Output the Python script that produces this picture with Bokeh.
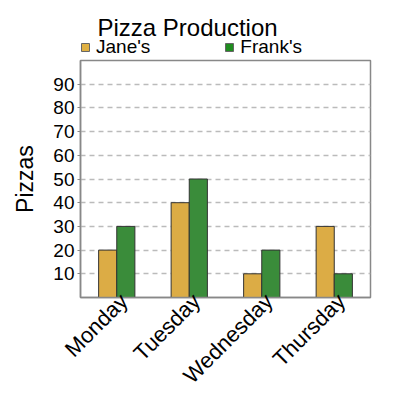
from math import pi

from bokeh.plotting import figure
from bokeh.layouts import column
from bokeh.models import Range1d, FixedTicker, Legend, LegendItem, Label
from bokeh.transform import dodge
from bokeh.embed import file_html
from bokeh.resources import INLINE

# data
days = ['Monday', 'Tuesday', 'Wednesday', 'Thursday']
janes = [20, 40, 10, 30]
franks = [30, 50, 20, 10]
y_ticks = [10, 20, 30, 40, 50, 60, 70, 80, 90]
series_names = ["Jane's", "Frank's"]

FONT = "Liberation Sans"
JANE_COLOR = "#dcac45"
FRANK_COLOR = "#3a8c3a"
LEFT, RIGHT = 80, 30        # frame borders shared by both figures
LABEL_SHIFT = 0.1           # tick labels sit a little right of the bar pair

# header: title + legend, above the plot frame
head = figure(width=400, height=58, x_range=Range1d(LEFT, 400 - RIGHT),
              y_range=Range1d(0, 58), output_backend="svg", toolbar_location=None,
              x_axis_location=None, y_axis_location=None, title_location=None,
              min_border_left=LEFT, min_border_right=RIGHT,
              min_border_top=0, min_border_bottom=0, outline_line_color=None)
head.grid.visible = False
head.add_layout(Label(x=97, y=31, text="Pizza Production", text_font=FONT,
                      text_font_size="24px", text_color="black",
                      text_baseline="alphabetic"))
g1 = head.vbar(x=[LEFT], top=[0], width=0, fill_color="#dfb042", line_color="#666666")
g2 = head.vbar(x=[LEFT], top=[0], width=0, fill_color="#1f8c1f", line_color="#666666")
legend = Legend(items=[LegendItem(label=series_names[0], renderers=[g1]),
                       LegendItem(label=series_names[1], renderers=[g2])],
                orientation="horizontal", location=(0, 0),
                label_text_font=FONT, label_text_font_size="19px",
                label_text_color="black",
                glyph_width=10, glyph_height=10, label_height=19,
                spacing=74, padding=0, margin=0, label_standoff=6,
                border_line_color=None, background_fill_alpha=0)
head.add_layout(legend)

# main chart
pos = list(range(1, len(days) + 1))
p = figure(width=400, height=342,
           x_range=Range1d(0.5 - LABEL_SHIFT, len(days) + 0.5 - LABEL_SHIFT),
           y_range=Range1d(0, 100),
           output_backend="svg", toolbar_location=None,
           min_border_left=LEFT, min_border_right=RIGHT,
           min_border_top=2, min_border_bottom=101)

src = dict(pos=pos, janes=janes, franks=franks)
p.vbar(x=dodge('pos', -0.125 - LABEL_SHIFT), top='janes', width=0.25,
       source=src, fill_color=JANE_COLOR, line_color="#333333", line_width=1)
p.vbar(x=dodge('pos', 0.125 - LABEL_SHIFT), top='franks', width=0.25,
       source=src, fill_color=FRANK_COLOR, line_color="#333333", line_width=1)

p.yaxis.ticker = FixedTicker(ticks=y_ticks)
p.yaxis.axis_label = "Pizzas"
p.yaxis.axis_label_text_font = FONT
p.yaxis.axis_label_text_font_size = "23px"
p.yaxis.axis_label_text_font_style = "normal"
p.yaxis.axis_label_text_color = "black"
p.yaxis.axis_label_standoff = 12
p.yaxis.major_label_text_font = FONT
p.yaxis.major_label_text_font_size = "19px"
p.yaxis.major_label_text_color = "black"
p.yaxis.major_label_standoff = 3
p.yaxis.minor_tick_line_color = None
p.yaxis.major_tick_in = 0
p.yaxis.major_tick_out = 3
p.yaxis.major_tick_line_color = "#888888"

p.xaxis.ticker = FixedTicker(ticks=pos)
p.xaxis.major_label_overrides = {x: d for x, d in zip(pos, days)}
p.xaxis.major_label_orientation = pi / 4
p.xaxis.major_label_text_font = FONT
p.xaxis.major_label_text_font_size = "22px"
p.xaxis.major_label_text_color = "black"
p.xaxis.major_label_standoff = 0
p.xaxis.major_tick_in = 0
p.xaxis.major_tick_out = 0
p.xaxis.minor_tick_line_color = None

for ax in (p.xaxis, p.yaxis):
    ax.axis_line_color = "#888888"
    ax.axis_line_width = 1.5

p.outline_line_color = "#888888"
p.outline_line_width = 1.5
p.outline_line_alpha = 1

p.xgrid.grid_line_color = None
p.ygrid.grid_line_color = "#bbbbbb"
p.ygrid.grid_line_dash = "5 4"
p.ygrid.grid_line_width = 1.5

layout = column(head, p, spacing=0)
open("out.html", "w").write(file_html(layout, INLINE))
